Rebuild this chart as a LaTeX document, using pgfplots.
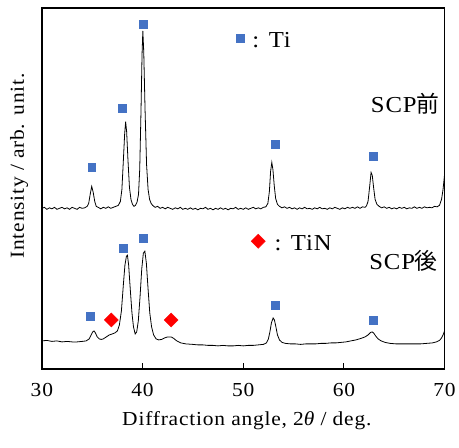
\documentclass[border=0pt]{standalone}
\usepackage{fontspec}
\setmainfont{Liberation Serif}[FakeStretch=1.08, LetterSpace=4]
\newfontfamily\cjk{Noto Sans CJK JP}
\usepackage{pgfplots}
\pgfplotsset{compat=1.18}
\definecolor{tiblue}{HTML}{4472C4}

\begin{document}
\begin{tikzpicture}
\begin{axis}[
    scale only axis,
    width=404bp,
    height=362bp,
    xmin=30, xmax=70,
    ymin=0, ymax=362,
    xtick={30,40,50,60,70},
    ytick=\empty,
    xtick pos=bottom,
    tick align=inside,
    major tick length=6bp,
    axis line style={line width=1.4bp},
    every tick/.style={black, line width=1.1bp},
    /pgf/number format/assume math mode=true,
    xticklabel style={font=\fontsize{20}{24}\selectfont, anchor=base, yshift=-28bp},
    xlabel={Diffraction angle, 2{\itshape θ} / deg.},
    xlabel style={font=\fontsize{20}{24}\selectfont, at={(axis description cs:0.509,0)}, anchor=base, yshift=-57bp},
    ylabel={Intensity / arb. unit.},
    ylabel style={font=\fontsize{20}{24}\selectfont, at={(axis description cs:-0.0446,0.562)}, anchor=base},
    clip=false,
]
% before SCP
\addplot[black, line width=0.8bp] coordinates {
(30.00,161) (30.25,162) (30.50,160) (30.75,161.5) (31.00,160.5) (31.25,162)
(31.50,160) (31.75,161) (32.00,162) (32.25,160.5) (32.50,161.5) (32.75,160)
(33.00,162) (33.25,161) (33.50,160) (33.75,162) (34.00,161) (34.25,161.5)
(34.50,163) (34.65,166) (34.80,175) (34.95,183) (35.10,177) (35.25,168)
(35.40,163) (35.60,162) (35.85,160.5) (36.10,162) (36.35,161) (36.60,162.5)
(36.85,161) (37.10,162) (37.35,163) (37.60,164) (37.80,168) (37.95,180)
(38.10,210) (38.22,235) (38.32,248) (38.42,238) (38.55,210) (38.70,182)
(38.85,170) (39.00,165) (39.15,163) (39.30,164) (39.45,167) (39.60,175)
(39.72,200) (39.85,260) (39.95,315) (40.03,339) (40.12,318) (40.25,260)
(40.40,205) (40.55,180) (40.70,170) (40.85,166) (41.00,164) (41.25,162)
(41.50,163) (41.75,161) (42.00,162) (42.25,160.5) (42.50,162) (42.75,161)
(43.00,160) (43.25,161.5) (43.50,160.5) (43.75,162) (44.00,160) (44.25,161)
(44.50,160) (44.75,161.5) (45.00,160) (45.25,161) (45.50,159.5) (45.75,161)
(46.00,160.5) (46.25,162) (46.50,160) (46.75,161) (47.00,159.5) (47.25,161)
(47.50,160) (47.75,161.5) (48.00,160) (48.25,161) (48.50,159.5) (48.75,161)
(49.00,160.5) (49.25,162) (49.50,160) (49.75,161) (50.00,160) (50.25,161.5)
(50.50,160) (50.75,161) (51.00,162) (51.25,160.5) (51.50,161.5) (51.75,160.5)
(52.00,162) (52.25,162.5) (52.45,166) (52.60,178) (52.72,198) (52.84,207)
(52.95,200) (53.08,184) (53.22,171) (53.40,165) (53.60,163) (53.85,161.5)
(54.10,162.5) (54.35,161) (54.60,162) (54.85,160.5) (55.10,161.5) (55.35,160)
(55.60,161.5) (55.85,160.5) (56.10,162) (56.35,160.5) (56.60,161) (56.85,160)
(57.10,161.5) (57.35,160.5) (57.60,162) (57.85,160.5) (58.10,161) (58.35,160)
(58.60,161.5) (58.85,160.5) (59.10,162) (59.35,161) (59.60,160) (59.85,161.5)
(60.10,160.5) (60.35,162) (60.60,161) (60.85,162) (61.10,161) (61.35,162.5)
(61.60,161) (61.85,162.5) (62.10,162) (62.25,163.5) (62.40,168) (62.55,182)
(62.70,197) (62.82,194) (62.95,182) (63.10,170) (63.28,165) (63.50,163)
(63.75,161.5) (64.00,162.5) (64.25,161) (64.50,162) (64.75,160.5) (65.00,161.5)
(65.25,160.5) (65.50,162) (65.75,161) (66.00,162) (66.25,160.5) (66.50,161.5)
(66.75,161) (67.00,162.5) (67.25,161) (67.50,162) (67.75,161) (68.00,162.5)
(68.25,161.5) (68.50,162) (68.75,161.5) (69.00,163) (69.25,162.5) (69.50,164)
(69.70,170) (69.85,180) (69.95,190) (70.00,195)
};
% after SCP
\addplot[black, line width=0.8bp] coordinates {
(30.00,28) (30.50,28.5) (31.00,27.5) (31.50,28) (32.00,27) (32.50,27.5)
(33.00,27) (33.50,27) (34.00,27.5) (34.40,28) (34.70,30) (34.90,34)
(35.05,37) (35.18,38) (35.32,36) (35.50,32) (35.70,30) (35.90,29.5)
(36.10,30) (36.40,32) (36.70,34) (37.00,35) (37.25,36) (37.50,38)
(37.70,44) (37.90,58) (38.10,85) (38.25,104) (38.40,113) (38.50,114)
(38.62,104) (38.78,80) (38.95,56) (39.10,42) (39.27,35) (39.42,37)
(39.58,48) (39.75,72) (39.92,100) (40.08,116) (40.23,118) (40.38,106)
(40.55,80) (40.72,56) (40.90,42) (41.10,34) (41.35,30) (41.60,29)
(41.90,29.5) (42.20,31) (42.50,32) (42.84,32) (43.10,30.5) (43.40,28)
(43.80,26) (44.30,25) (45.00,24.5) (45.50,24) (46.00,24) (46.50,23.5)
(47.00,23.5) (47.50,23) (48.00,23.5) (48.50,23) (49.00,23) (49.50,23.5)
(50.00,23) (50.50,23.5) (51.00,23.5) (51.50,24) (52.00,24.5) (52.30,26)
(52.50,30) (52.65,37) (52.80,46) (52.97,51) (53.10,49) (53.25,42)
(53.40,34) (53.60,29) (53.85,26.5) (54.20,25.5) (54.70,25) (55.20,25)
(55.70,24.5) (56.20,25) (56.70,25) (57.20,25) (57.70,25.5) (58.20,25.5)
(58.70,26) (59.20,26) (59.70,26.5) (60.20,27) (60.70,28) (61.20,29)
(61.70,30.5) (62.10,32) (62.40,34) (62.65,36.5) (62.80,37) (62.95,36)
(63.15,33) (63.40,30) (63.70,28) (64.10,26.5) (64.60,25.5) (65.20,25)
(65.80,25) (66.40,25) (67.00,25) (67.60,25) (68.20,25.5) (68.80,26)
(69.20,27) (69.50,28.5) (69.70,31) (69.85,34) (70.00,38)
};
% Ti peaks
\addplot[only marks, mark=square*, mark size=4bp, mark options={fill=tiblue, draw=tiblue}] coordinates {
(34.95,202) (37.99,261) (40.10,346) (53.14,225) (62.94,213)
(34.79,53) (38.12,121) (40.10,131) (53.14,64) (62.94,49)
(49.70,332)
};
% TiN peaks
\addplot[only marks, mark=square*, mark size=5bp, mark options={fill=red, draw=red, rotate=45}] coordinates {
(36.90,49) (42.84,49) (51.49,128)
};
\node[anchor=base west, inner sep=0pt, font=\fontsize{23}{27}\selectfont] at (axis cs:50.9,322) {: Ti};
\node[anchor=base west, inner sep=0pt, font=\fontsize{23}{27}\selectfont] at (axis cs:53.1,119) {: TiN};
\node[anchor=base west, inner sep=0pt, font=\fontsize{23}{27}\selectfont] at (axis cs:62.67,257) {SCP{\cjk 前}};
\node[anchor=base west, inner sep=0pt, font=\fontsize{23}{27}\selectfont] at (axis cs:62.5,100) {SCP{\cjk 後}};
\end{axis}
\path ([shift={(-42bp,-79bp)}]current axis.south west) rectangle ([shift={(13bp,8bp)}]current axis.north east);
\end{tikzpicture}
\end{document}
